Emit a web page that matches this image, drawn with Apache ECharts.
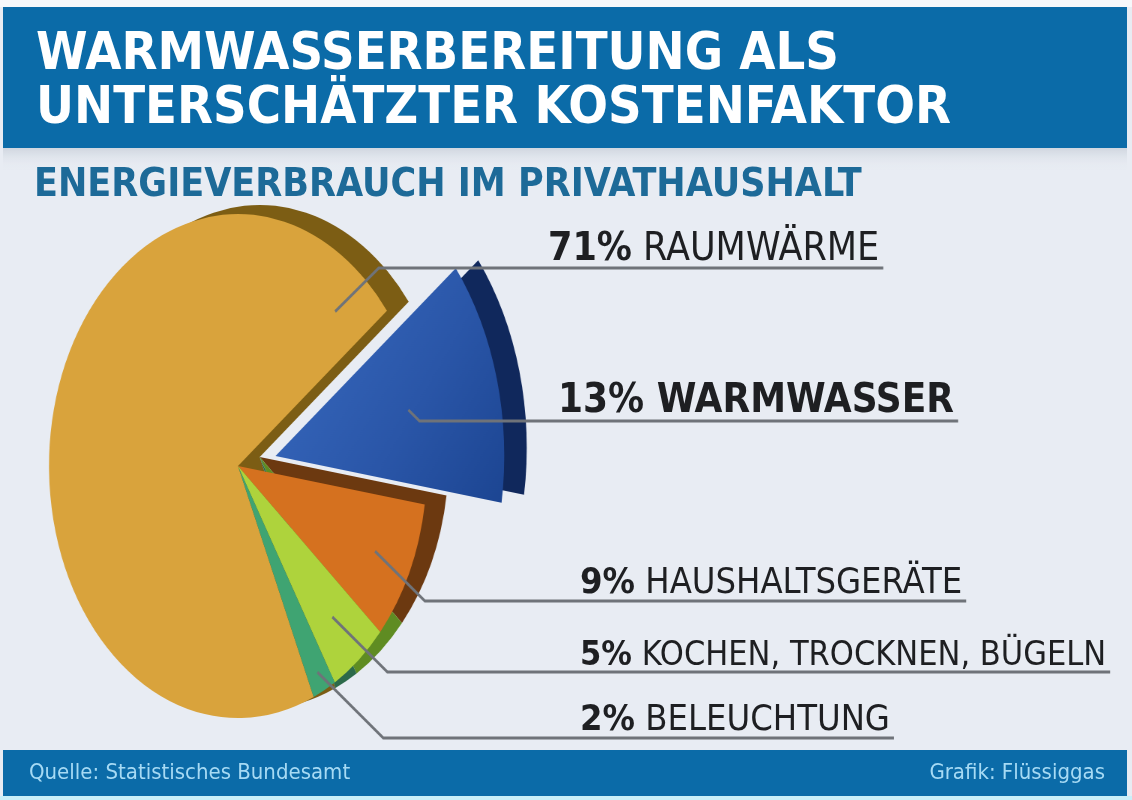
<!DOCTYPE html>
<html>
<head>
<meta charset="utf-8">
<script src="https://cdn.jsdelivr.net/npm/echarts@6/dist/echarts.min.js"></script>
<style>
html, body { margin: 0; padding: 0; background: #e8ecf3; overflow: hidden; }
#pie { position: absolute; left: 0; top: 0; width: 1520px; height: 800px; transform: scaleX(0.75); transform-origin: 0 0; }
#main { position: absolute; left: 0; top: 0; width: 1132px; height: 800px; }
</style>
</head>
<body>
<div id="pie"></div>
<div id="main"></div>
<script>
// Daten
var categories = ['RAUMWÄRME', 'WARMWASSER', 'HAUSHALTSGERÄTE', 'KOCHEN, TROCKNEN, BÜGELN', 'BELEUCHTUNG'];
var shares = [71, 13, 9, 5, 2];
var highlightIndex = 1;

// Farben
var faceColors = ['#d9a33c', '#2c5bb0', '#d5711f', '#aed33c', '#3fa472'];
var sideColors = ['#7c5d14', '#10285c', '#6c3910', '#5f8c22', '#2c6a4a'];

// Layout
var SX = 0.75;                 // horizontale Stauchung der Torte (Perspektive)
var pieCenter = [238 / SX, 466];
var pieR = 252;
var blueCenter = [pieCenter[0] + 50, pieCenter[1] - 10];
var blueR = 305;
var sideShift = [29, -9];
var blueSideShift = [30, -8];
var labelLeft = [548, 558, 580, 580, 580];
var lineY = [268, 421, 601, 672, 738];
var labelFont = [39, 40, 36, 34, 36];
var leadDepth = [0.8, 0.6, 0.8, 0.78, 0.92];
var FF = "'Liberation Sans Narrow', 'DejaVu Sans Condensed', sans-serif";

var mctx = document.createElement('canvas').getContext('2d');
function textW(font, s) { mctx.font = font; return mctx.measureText(s).width; }
var lineEnd = categories.map(function (c, i) {
    var fs = labelFont[i];
    var nw = i === highlightIndex ? 'bold ' : '';
    return labelLeft[i] + textW('bold ' + fs + 'px ' + FF, shares[i] + '%') + textW(nw + fs + 'px ' + FF, ' ' + c) + 4;
});

var pieChart = echarts.init(document.getElementById('pie'));

function makeLayout(si) {
    return function (params) {
        var i = params.dataIndex;
        var lay = pieChart.getModel().getSeriesByIndex(si).getData().getItemLayout(i);
        if (!lay) return;
        var a = i === 0 ? lay.endAngle - 12 * Math.PI / 180 : (lay.startAngle + lay.endAngle) / 2;
        var k = leadDepth[i];
        var x0 = lay.cx + k * lay.r * Math.cos(a);
        var y0 = lay.cy + k * lay.r * Math.sin(a);
        var y1 = lineY[i];
        var x1 = x0 + Math.abs(y1 - y0) / SX;
        var x2 = lineEnd[i] / SX;
        return { x: x2, y: y1, labelLinePoints: [[x0, y0], [x1, y1], [x2, y1]] };
    };
}

// mode 'face': sichtbare Stücke ohne Beschriftung; mode 'label': unsichtbare Stücke, nur Linien
function pieSeries(si, center, radius, colors, visible, mode) {
    var withLabel = mode === 'label';
    return {
        type: 'pie',
        center: center,
        radius: radius,
        startAngle: 293.6,
        clockwise: true,
        silent: true,
        animation: false,
        avoidLabelOverlap: false,
        z: withLabel ? 5 : 2,
        label: { color: 'rgba(0,0,0,0)', position: 'outside', fontSize: 10 },
        labelLine: { lineStyle: { color: '#6f7379', width: 3 } },
        labelLayout: withLabel ? makeLayout(si) : null,
        data: shares.map(function (v, i) {
            var on = visible(i);
            return {
                value: v,
                name: categories[i],
                itemStyle: { color: colors[i], opacity: on && !withLabel ? 1 : 0 },
                label: { show: withLabel && on },
                labelLine: { show: withLabel && on }
            };
        })
    };
}

var blueFace = faceColors.slice();
blueFace[highlightIndex] = {
    type: 'linear', x: 0, y: 0, x2: 1, y2: 1,
    colorStops: [{ offset: 0, color: '#3a6cc2' }, { offset: 0.6, color: '#2a56a8' }, { offset: 1, color: '#1c4592' }]
};
var rest = function (i) { return i !== highlightIndex; };
var only = function (i) { return i === highlightIndex; };

pieChart.setOption({
    series: [
        pieSeries(0, [pieCenter[0] + sideShift[0], pieCenter[1] + sideShift[1]], pieR, sideColors, rest, 'face'),
        pieSeries(1, pieCenter, pieR, faceColors, rest, 'face'),
        pieSeries(2, [blueCenter[0] + blueSideShift[0], blueCenter[1] + blueSideShift[1]], blueR, sideColors, only, 'face'),
        pieSeries(3, blueCenter, blueR, blueFace, only, 'face'),
        pieSeries(4, pieCenter, pieR, faceColors, rest, 'label'),
        pieSeries(5, blueCenter, blueR, faceColors, only, 'label')
    ]
});

// Texte, Bänder
var mainChart = echarts.init(document.getElementById('main'));
var graphics = [
    { type: 'rect', shape: { x: 0, y: 0, width: 1132, height: 7 }, style: { fill: '#f6f8fb' } },
    { type: 'rect', shape: { x: 3, y: 7, width: 1124, height: 141 }, style: { fill: '#0b6ba8' } },
    { type: 'rect', shape: { x: 3, y: 148, width: 1124, height: 22 },
      style: { fill: { type: 'linear', x: 0, y: 0, x2: 0, y2: 1, colorStops: [{ offset: 0, color: '#cfd6df' }, { offset: 1, color: 'rgba(232,236,243,0)' }] } } },
    { type: 'rect', shape: { x: 3, y: 750, width: 1124, height: 46 }, style: { fill: '#0b6ba8' } },
    { type: 'rect', shape: { x: 0, y: 796, width: 1132, height: 4 }, style: { fill: '#c9eff9' } },
    { type: 'text', x: 29, y: 773, style: { text: 'Quelle: Statistisches Bundesamt', fill: '#a6daf4', font: '22px ' + FF, verticalAlign: 'middle' } },
    { type: 'text', x: 1105, y: 773, style: { text: 'Grafik: Flüssiggas', fill: '#a6daf4', font: '22px ' + FF, align: 'right', verticalAlign: 'middle' } }
];
categories.forEach(function (c, i) {
    var fs = labelFont[i];
    graphics.push({
        type: 'text', x: labelLeft[i], y: lineY[i] + 1,
        style: {
            text: '{p|' + shares[i] + '%}{n| ' + c + '}',
            verticalAlign: 'bottom',
            rich: {
                p: { fontFamily: FF, fontWeight: 'bold', fontSize: fs, fill: '#1e1f22' },
                n: { fontFamily: FF, fontWeight: i === highlightIndex ? 'bold' : 'normal', fontSize: fs, fill: '#1e1f22' }
            }
        }
    });
});

mainChart.setOption({
    title: [{
        text: 'WARMWASSERBEREITUNG ALS\nUNTERSCHÄTZTER KOSTENFAKTOR',
        left: 31, top: 23,
        textStyle: { color: '#ffffff', fontFamily: FF, fontWeight: 'bold', fontSize: 52, lineHeight: 54 }
    }, {
        text: 'ENERGIEVERBRAUCH IM PRIVATHAUSHALT',
        left: 29, top: 161,
        textStyle: { color: '#1d6a98', fontFamily: FF, fontWeight: 'bold', fontSize: 39 }
    }],
    graphic: graphics
});
</script>
</body>
</html>
